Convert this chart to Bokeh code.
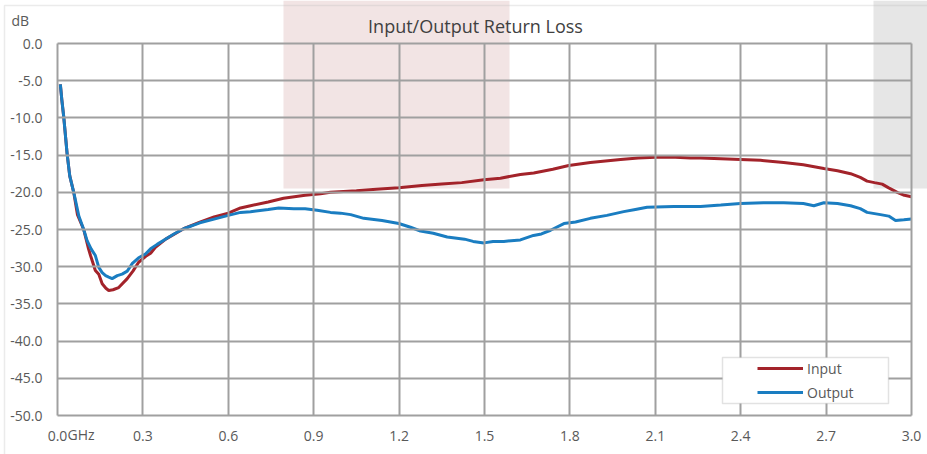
from bokeh.plotting import figure
from bokeh.models import (Range1d, FixedTicker, PrintfTickFormatter, BoxAnnotation,
                          Label, Legend, LegendItem, Grid)
from bokeh.embed import file_html
from bokeh.resources import INLINE

# ---- data ----
input_ghz = [0.01, 0.015, 0.022, 0.034, 0.043, 0.057, 0.07, 0.092, 0.109, 0.116, 0.133,
             0.145, 0.157, 0.17, 0.18, 0.195, 0.215, 0.245, 0.265, 0.285, 0.31, 0.327,
             0.344, 0.38, 0.443, 0.5, 0.55, 0.6, 0.643, 0.678, 0.74, 0.794, 0.87, 0.924,
             0.959, 1.05, 1.12, 1.199, 1.28, 1.35, 1.42, 1.498, 1.556, 1.626, 1.673, 1.74,
             1.796, 1.872, 1.978, 2.04, 2.101, 2.17, 2.224, 2.259, 2.33, 2.399, 2.47,
             2.551, 2.62, 2.692, 2.74, 2.786, 2.82, 2.844, 2.87, 2.897, 2.92, 2.95,
             2.975, 3.0]
input_db = [-5.5, -7.5, -9.9, -14.9, -17.8, -20.0, -23.0, -25.0, -27.6, -28.5, -30.5,
            -31.0, -32.3, -32.9, -33.2, -33.1, -32.8, -31.6, -30.6, -29.4, -28.6, -28.2,
            -27.4, -26.3, -24.9, -24.0, -23.3, -22.8, -22.1, -21.8, -21.3, -20.8, -20.4,
            -20.2, -20.0, -19.8, -19.6, -19.4, -19.1, -18.9, -18.7, -18.3, -18.1, -17.6,
            -17.4, -16.9, -16.4, -16.0, -15.6, -15.4, -15.3, -15.3, -15.4, -15.4, -15.5,
            -15.6, -15.7, -16.0, -16.3, -16.8, -17.1, -17.5, -18.0, -18.5, -18.7, -18.9,
            -19.4, -20.0, -20.4, -20.6]

output_ghz = [0.01, 0.015, 0.022, 0.034, 0.043, 0.057, 0.075, 0.092, 0.104, 0.118, 0.133,
              0.145, 0.157, 0.169, 0.18, 0.192, 0.21, 0.227, 0.245, 0.262, 0.285, 0.309,
              0.327, 0.35, 0.379, 0.409, 0.443, 0.5, 0.55, 0.6, 0.643, 0.678, 0.74, 0.777,
              0.83, 0.87, 0.912, 0.959, 0.994, 1.03, 1.076, 1.14, 1.199, 1.24, 1.275,
              1.32, 1.369, 1.43, 1.46, 1.498, 1.53, 1.568, 1.626, 1.672, 1.7, 1.732,
              1.779, 1.82, 1.872, 1.93, 1.989, 2.03, 2.071, 2.165, 2.259, 2.33, 2.399,
              2.48, 2.551, 2.62, 2.657, 2.692, 2.74, 2.786, 2.82, 2.844, 2.891, 2.92,
              2.944, 2.973, 3.0]
output_db = [-5.5, -7.5, -9.9, -14.9, -17.8, -20.0, -23.2, -25.0, -26.5, -27.6, -28.5,
             -30.1, -30.8, -31.2, -31.4, -31.6, -31.2, -31.0, -30.6, -29.6, -28.8, -28.3,
             -27.6, -27.0, -26.3, -25.6, -24.9, -24.1, -23.6, -23.1, -22.7, -22.6, -22.3,
             -22.1, -22.2, -22.2, -22.4, -22.7, -22.8, -23.0, -23.5, -23.8, -24.2, -24.7,
             -25.2, -25.5, -26.0, -26.3, -26.6, -26.8, -26.6, -26.6, -26.4, -25.8, -25.6,
             -25.1, -24.2, -24.0, -23.5, -23.1, -22.6, -22.3, -22.0, -21.9, -21.9, -21.7,
             -21.5, -21.4, -21.4, -21.5, -21.8, -21.4, -21.5, -21.8, -22.2, -22.7, -23.0,
             -23.2, -23.8, -23.7, -23.6]

x_ticks = [0.0, 0.3, 0.6, 0.9, 1.2, 1.5, 1.8, 2.1, 2.4, 2.7, 3.0]
y_ticks = [0, -5, -10, -15, -20, -25, -30, -35, -40, -45, -50]
series_names = ["Input", "Output"]
series_colors = ["#a3232a", "#1a7dc1"]
title_text = "Input/Output Return Loss"
y_unit = "dB"
x_unit = "GHz"

# ---- layout (pixels) ----
W, H = 927, 454
PLOT_L, PLOT_R, PLOT_T, PLOT_B = 57, 911, 43, 415
X0, X1 = x_ticks[0], x_ticks[-1]
Y0, Y1 = y_ticks[-1], y_ticks[0]
pxx = (PLOT_R - PLOT_L) / (X1 - X0)
pxy = (PLOT_B - PLOT_T) / (Y1 - Y0)


def dx(px):
    return X0 + (px - PLOT_L) / pxx


def dy(py):
    return Y1 - (py - PLOT_T) / pxy


FONT = "Open Sans"
GRID = "#a0a0a0"
TXT = "#595959"

p = figure(width=W, height=H, output_backend="svg", toolbar_location=None,
           x_range=Range1d(dx(0), dx(W)), y_range=Range1d(dy(H), dy(0)),
           min_border=0, min_border_left=0, min_border_right=0, min_border_top=0,
           min_border_bottom=0)
p.outline_line_color = None

p.xaxis[0].fixed_location = Y0
p.yaxis[0].fixed_location = X0
p.xaxis[0].bounds = (X0, X1)
p.yaxis[0].bounds = (Y0, Y1)
for ax, ticks in ((p.xaxis[0], x_ticks), (p.yaxis[0], y_ticks)):
    ax.ticker = FixedTicker(ticks=ticks)
    ax.formatter = PrintfTickFormatter(format="%.1f")
    ax.axis_line_color = None
    ax.major_tick_line_color = None
    ax.minor_tick_line_color = None
    ax.major_tick_out = 0
    ax.major_tick_in = 0
    ax.major_label_text_font = FONT
    ax.major_label_text_font_size = "14px"
    ax.major_label_text_color = TXT
p.yaxis[0].major_label_standoff = 15
p.xaxis[0].major_label_standoff = 15

if "cross_bounds" in Grid.properties():
    p.xgrid[0].ticker = FixedTicker(ticks=x_ticks)
    p.ygrid[0].ticker = FixedTicker(ticks=y_ticks)
    p.xgrid[0].cross_bounds = (Y0, Y1)
    p.ygrid[0].cross_bounds = (X0, X1)
    for g in (p.xgrid[0], p.ygrid[0]):
        g.grid_line_color = GRID
        g.grid_line_width = 2
        g.level = "glyph"
else:
    p.xgrid[0].visible = False
    p.ygrid[0].visible = False
    p.segment(x0=x_ticks, x1=x_ticks, y0=[Y0] * len(x_ticks), y1=[Y1] * len(x_ticks),
              line_color=GRID, line_width=2)
    p.segment(x0=[X0] * len(y_ticks), x1=[X1] * len(y_ticks), y0=y_ticks, y1=y_ticks,
              line_color=GRID, line_width=2)

# highlight bands behind the grid
p.add_layout(BoxAnnotation(left=dx(283), right=dx(509), bottom=dy(188), top=None,
                           fill_color="#f2e4e4", fill_alpha=1, line_color=None,
                           level="underlay"))
p.add_layout(BoxAnnotation(left=dx(873), right=None, bottom=dy(188), top=None,
                           fill_color="#e6e6e6", fill_alpha=1, line_color=None,
                           level="underlay"))
# outer chart border (left and top edges visible)
p.add_layout(BoxAnnotation(left=dx(4), top=dy(5), right=dx(W + 20), bottom=dy(H + 20),
                           fill_color=None, line_color="#bdbdbd", line_width=1.5,
                           level="underlay"))

r_in = p.line(input_ghz, input_db, line_color=series_colors[0], line_width=3)
r_out = p.line(output_ghz, output_db, line_color=series_colors[1], line_width=3)

# legend frame
p.add_layout(BoxAnnotation(left=dx(722), right=dx(888), bottom=dy(403), top=dy(357),
                           fill_color="white", fill_alpha=1, line_color=GRID,
                           line_width=1.5))
legend = Legend(items=[LegendItem(label=series_names[0], renderers=[r_in]),
                       LegendItem(label=series_names[1], renderers=[r_out])],
                location=(757, H - 402), margin=0, padding=0, spacing=4,
                glyph_width=46, glyph_height=20, label_height=20, label_standoff=4,
                background_fill_alpha=0, border_line_color=None,
                label_text_font=FONT, label_text_font_size="14px",
                label_text_color=TXT)
p.add_layout(legend)

p.add_layout(Label(x=dx(475), y=dy(25), text=title_text, text_align="center",
                   text_baseline="middle", text_font=FONT, text_font_size="18px",
                   text_color="#404040"))
p.add_layout(Label(x=dx(11), y=dy(20), text=y_unit, text_align="left",
                   text_baseline="middle", text_font=FONT, text_font_size="14px",
                   text_color=TXT))
p.add_layout(Label(x=dx(67), y=dy(434), text=x_unit, text_align="left",
                   text_baseline="middle", text_font=FONT, text_font_size="14px",
                   text_color=TXT))

open("out.html", "w").write(file_html(p, INLINE))
